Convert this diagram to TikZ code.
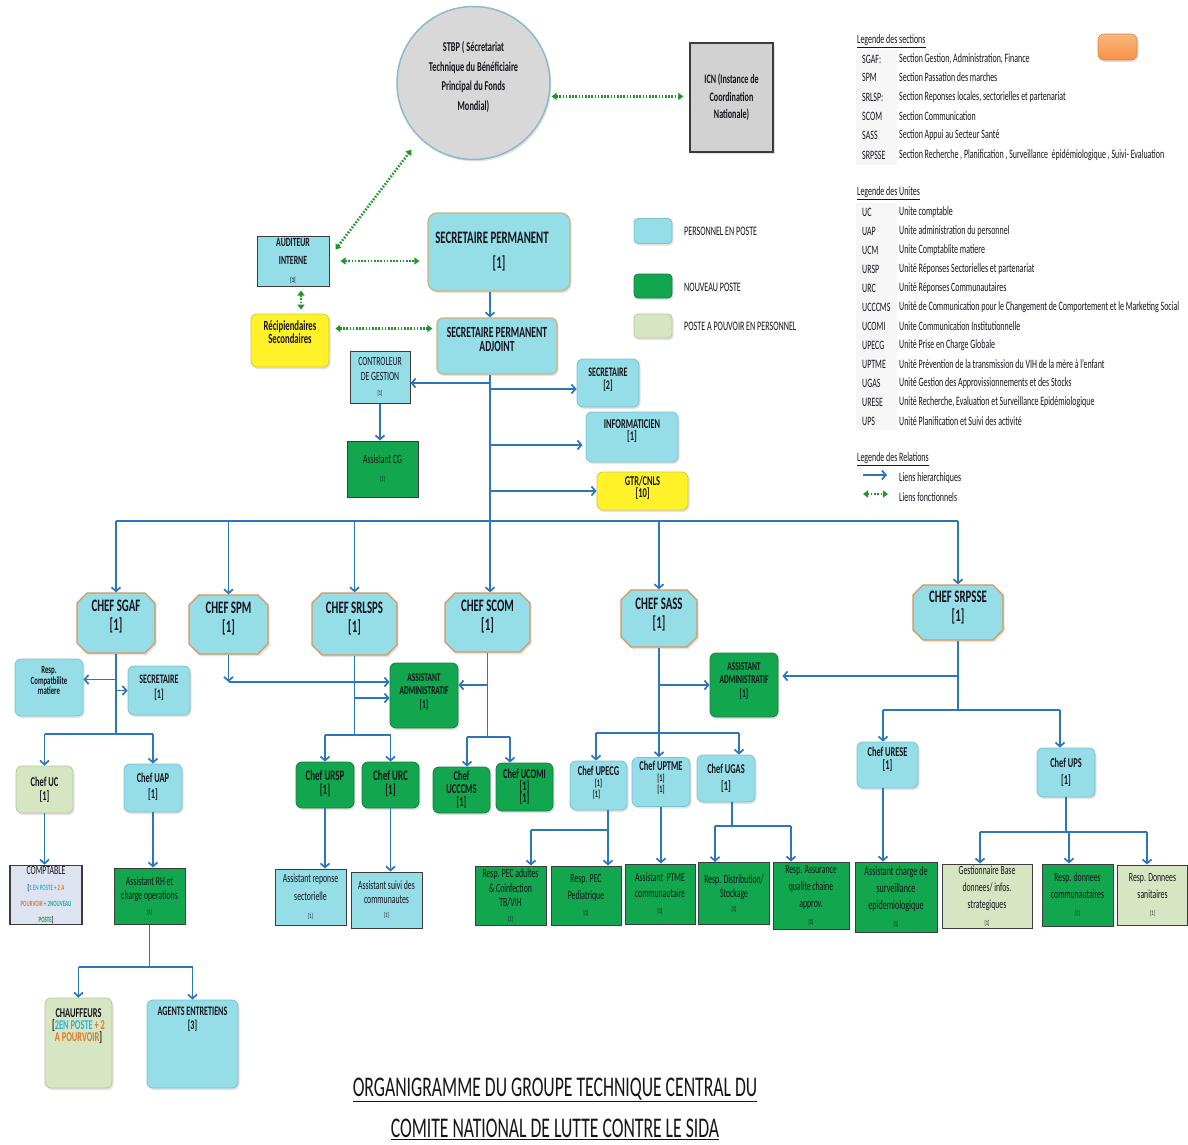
\documentclass[tikz,border=0pt]{standalone}
\usepackage{fontspec}
\setmainfont{Carlito}[FakeStretch=0.62]
\usetikzlibrary{arrows.meta,shapes.misc,shadows,calc}
\definecolor{lblue}{RGB}{149,221,231}
\definecolor{lbord}{RGB}{125,192,206}
\definecolor{ngreen}{RGB}{18,166,78}
\definecolor{gbord}{RGB}{22,125,62}
\definecolor{pale}{RGB}{214,229,194}
\definecolor{palebord}{RGB}{180,200,160}
\definecolor{ybox}{RGB}{255,242,40}
\definecolor{ybord}{RGB}{215,200,60}
\definecolor{tanb}{RGB}{200,180,125}
\definecolor{corange}{RGB}{214,150,90}
\definecolor{dk}{RGB}{60,60,60}
\definecolor{hblue}{RGB}{46,117,192}
\definecolor{fgreen}{RGB}{30,150,40}
\definecolor{cgray}{RGB}{216,216,216}
\definecolor{cbord}{RGB}{140,185,205}
\definecolor{icngray}{RGB}{210,210,210}
\definecolor{txt}{RGB}{20,20,28}
\definecolor{tcyan}{RGB}{40,180,225}
\definecolor{torange}{RGB}{225,120,40}
\definecolor{tgreen}{RGB}{20,160,80}
\definecolor{swor}{RGB}{246,160,80}
\definecolor{lavend}{RGB}{222,227,242}
\newcommand\fz[2]{\fontsize{#1pt}{#2pt}\selectfont}
\begin{document}
\begin{tikzpicture}[x=1pt,y=-1pt,
  wh/.style 2 args={minimum width=#1pt, minimum height=#2pt},
  tup/.style={text depth=#1},
  shd/.style={drop shadow={opacity=0.22, shadow xshift=1.5pt, shadow yshift=-2pt}},
  bx/.style={align=center, inner sep=1pt, text=txt},
  rblue/.style={bx, rounded corners=6pt, fill=lblue, draw=lbord, line width=0.8pt, shd},
  sblue/.style={bx, fill=lblue, draw=dk, line width=1pt},
  rgreen/.style={bx, rounded corners=6pt, fill=ngreen, draw=gbord, line width=0.8pt, shd},
  sgreen/.style={bx, fill=ngreen, draw=dk, line width=1pt},
  spale/.style={bx, fill=pale, draw=dk, line width=1pt},
  rpale/.style={bx, rounded corners=6pt, fill=pale, draw=palebord, line width=0.8pt, shd},
  ryel/.style={bx, rounded corners=6pt, fill=ybox, draw=ybord, line width=0.8pt, shd},
  chefbox/.style={bx, chamfered rectangle, chamfered rectangle xsep=5pt, chamfered rectangle ysep=5pt, fill=lblue, draw=corange, line width=1.3pt, shd, font=\bfseries\fz{17.5}{19}},
  ha/.style={draw=hblue, line width=1.7pt, -{Straight Barb[length=4pt,width=9pt]}},
  hl/.style={draw=hblue, line width=1.7pt},
  fl/.style={draw=fgreen, line width=2.6pt, dash pattern=on 1.6pt off 1.6pt, {Triangle[length=5pt,width=7pt]}-{Triangle[length=5pt,width=7pt]}},
  lg/.style={anchor=west, inner sep=0pt, text=txt, font=\fz{12.8}{15}},
]
\useasboundingbox (0,0) rectangle (1188,1144);
\fill[white] (0,0) rectangle (1188,1144);

% ---------- legend backgrounds
\fill[gray!7] (856,50) rectangle (897,165);
\fill[gray!7] (856,203) rectangle (897,430);

% ---------- top
\node[bx, circle, minimum size=153pt, fill=cgray, draw=cbord, line width=1.5pt, shd, font=\bfseries\fz{13.5}{19.5}, tup=14pt] (stbp) at (473.5,83) {STBP ( Sécretariat\\Technique du Bénéficiaire\\Principal du Fonds\\Mondial)};
\node[bx, fill=icngray, draw=dk, line width=1.3pt, shd, wh={83}{109}, font=\bfseries\fz{13}{17.5}] (icn) at (731.5,97.5) {ICN (Instance de\\Coordination\\Nationale)};

\node[sblue, wh={72}{50}, font=\bfseries\fz{12.5}{18}] (aud) at (293,261) {AUDITEUR\\INTERNE\\{\fz{7}{8}[1]}};
\node[ryel, wh={78}{53}, font=\bfseries\fz{14}{12}, tup=17pt] (recip) at (290,340.5) {Récipiendaires\\Secondaires};
\node[rblue, draw=tanb, line width=1.2pt, rounded corners=9pt, wh={142}{78}, font=\bfseries\fz{17.5}{25}] (sp) at (499,252) {SECRETAIRE PERMANENT\hspace*{14pt}\\{[1]}};
\node[rblue, draw=tanb, line width=1.2pt, wh={120}{56}, font=\bfseries\fz{15.5}{14}, tup=13pt] (spa) at (497,346) {SECRETAIRE PERMANENT\\ADJOINT};
\node[sblue, wh={60}{52}, font=\fz{12.5}{15}] (ctrl) at (380,377) {CONTROLEUR\\DE GESTION\\{\fz{7}{8}[1]}};
\node[sgreen, wh={71}{56}, font=\fz{12.5}{18}] (acg) at (382.5,469) {Assistant CG\\{\fz{7}{8}[1]}};
\node[rblue, wh={62}{48}, font=\bfseries\fz{13}{13}, tup=9pt] (sec2) at (608,383) {SECRETAIRE\\{[2]}};
\node[rblue, wh={92}{50}, font=\bfseries\fz{13.5}{12.5}, tup=14pt] (info) at (632,437) {INFORMATICIEN\\{[1]}};
\node[ryel, wh={91}{38}, font=\bfseries\fz{13.5}{11.5}, tup=8pt] (gtr) at (642.5,491) {GTR/CNLS\\{[10]}};

% colour legend
\node[rblue, rounded corners=4pt, wh={38}{25}] (sw1) at (653,231) {};
\node[rgreen, rounded corners=4pt, wh={38}{24}] (sw2) at (653,286) {};
\node[rpale, rounded corners=4pt, wh={38}{24}] (sw3) at (653,326) {};
\node[lg, font=\fz{13}{14}] (sl1) at (684,231) {PERSONNEL EN POSTE};
\node[lg, font=\fz{13}{14}] (sl2) at (684,287) {NOUVEAU POSTE};
\node[lg, font=\fz{13}{14}] (sl3) at (684,326) {POSTE A POUVOIR EN PERSONNEL};
\node[rounded corners=6pt, top color=swor!75!white, bottom color=swor!90!red, draw=swor!85!black, line width=0.6pt, wh={39}{26}, shd] (swo) at (1117.5,47) {};

% ---------- legends text
\node[lg] (lsec) at (857,41) {\underline{Legende des sections}};
\node[lg] (s1a) at (862,59) {SGAF:}; \node[lg] (s1d) at (899,59) {Section Gestion, Administration, Finance};
\node[lg] (s2a) at (862,77) {SPM}; \node[lg] (s2d) at (899,77) {Section Passation des marches};
\node[lg] (s3a) at (862,97) {SRLSP:}; \node[lg] (s3d) at (899,97) {Section Reponses locales, sectorielles et partenariat};
\node[lg] (s4a) at (862,116) {SCOM}; \node[lg] (s4d) at (899,116) {Section Communication};
\node[lg] (s5a) at (862,135) {SASS}; \node[lg] (s5d) at (899,135) {Section Appui au Secteur Santé};
\node[lg] (s6a) at (862,155) {SRPSSE}; \node[lg] (s6d) at (899,155) {Section Recherche , Planification , Surveillance\ \ épidémiologique , Suivi- Evaluation};

\node[lg] (luni) at (857,193) {\underline{Legende des Unites}};
\node[lg] (u1a) at (862,212) {UC}; \node[lg] (u1d) at (899,212) {Unite comptable};
\node[lg] (u2a) at (862,231) {UAP}; \node[lg] (u2d) at (899,231) {Unite administration du personnel};
\node[lg] (u3a) at (862,250) {UCM}; \node[lg] (u3d) at (899,250) {Unite Comptablite matiere};
\node[lg] (u4a) at (862,269) {URSP}; \node[lg] (u4d) at (899,269) {Unité Réponses Sectorielles et partenariat};
\node[lg] (u5a) at (862,288) {URC}; \node[lg] (u5d) at (899,288) {Unité Réponses Communautaires};
\node[lg] (u6a) at (862,307) {UCCCMS}; \node[lg] (u6d) at (899,307) {Unité de Communication pour le Changement de Comportement et le Marketing Social};
\node[lg] (u7a) at (862,326) {UCOMI}; \node[lg] (u7d) at (899,326) {Unite Communication Institutionnelle};
\node[lg] (u8a) at (862,345) {UPECG}; \node[lg] (u8d) at (899,345) {Unité Prise en Charge Globale};
\node[lg] (u9a) at (862,364) {UPTME}; \node[lg] (u9d) at (899,364) {Unité Prévention de la transmission du VIH de la mère à l'enfant};
\node[lg] (u10a) at (862,383) {UGAS}; \node[lg] (u10d) at (899,383) {Unité Gestion des Approvissionnements et des Stocks};
\node[lg] (u11a) at (862,402) {URESE}; \node[lg] (u11d) at (899,402) {Unité Recherche, Evaluation et Surveillance Epidémiologique};
\node[lg] (u12a) at (862,421) {UPS}; \node[lg] (u12d) at (899,421) {Unité Planification et Suivi des activité};

\node[lg] (lrel) at (857,459) {\underline{Legende des Relations}};
\coordinate (lhA) at (863,475); \coordinate (lhB) at (887,475);
\draw[ha] (lhA) -- (lhB);
\coordinate (lfA) at (863,494); \coordinate (lfB) at (888,494);
\draw[fl] (lfA) -- (lfB);
\node[lg] (r1) at (899,478) {Liens hierarchiques};
\node[lg] (r2) at (899,497) {Liens fonctionnels};

% ---------- chefs
\node[chefbox, wh={78}{60}, tup=16pt] (cSGAF) at (116,623) {CHEF SGAF\\{[1]}};
\node[chefbox, wh={79}{59}, tup=14pt] (cSPM) at (228.5,624.5) {CHEF SPM\\{[1]}};
\node[chefbox, wh={85}{62}, tup=14pt] (cSRLSPS) at (354.5,624) {CHEF SRLSPS\\{[1]}};
\node[chefbox, wh={85}{59}, tup=14pt] (cSCOM) at (487.5,622.5) {CHEF SCOM\\{[1]}};
\node[chefbox, wh={76}{57}, tup=10pt] (cSASS) at (659,618.5) {CHEF SASS\\{[1]}};
\node[chefbox, wh={90}{55}, tup=12pt] (cSRPSSE) at (958,612.5) {CHEF SRPSSE\\{[1]}};

% ---------- SGAF subtree
\node[rblue, wh={68}{57}, font=\bfseries\fz{11}{10.5}, tup=14pt] (respCM) at (49,687.5) {Resp.\\Compatbilite\\matiere};
\node[rblue, wh={62}{49}, font=\bfseries\fz{13}{15}, tup=8pt] (sec1) at (159,690.5) {SECRETAIRE\\{[1]}};
\node[rpale, wh={57}{47}, font=\bfseries\fz{13.5}{14}] (cUC) at (44.5,789.5) {Chef UC\\{[1]}};
\node[rblue, wh={58}{48}, font=\bfseries\fz{13.5}{16}, tup=5pt] (cUAP) at (153,788) {Chef UAP\\{[1]}};
\node[bx, fill=lavend, draw=dk, line width=1.4pt, wh={72}{56}, font=\bfseries\fz{8}{16}] (compt) at (46,895) {{\mdseries\fz{12.5}{16}COMPTABLE}\\{[}\textcolor{tcyan}{1 EN POSTE} \textcolor{torange}{+ 2 A}\\\textcolor{torange}{POURVOIR} \textcolor{tcyan!60!tgreen}{+ 2NOUVEAU}\\\textcolor{tgreen}{POSTE}{]}};
\node[sgreen, wh={71}{56}, font=\fz{12.5}{14.5}] (arh) at (149.5,896) {Assistant RH et\\charge operations\\{\fz{7}{8}[1]}};
\node[rpale, wh={67}{90}, font=\bfseries\fz{13.5}{12}, tup=35pt] (chauf) at (78.5,1043) {CHAUFFEURS\\{[}\textcolor{tcyan}{2EN POSTE} \textcolor{torange}{+ 2}\\\textcolor{torange}{A POURVOIR}{]}};
\node[rblue, wh={91}{88}, font=\bfseries\fz{13}{14}, tup=51pt] (agents) at (192.5,1044) {AGENTS ENTRETIENS\\{[3]}};

% ---------- SPM / SRLSPS / SCOM
\node[rgreen, wh={68}{65}, font=\bfseries\fz{12}{13.5}, tup=9pt] (aa1) at (424,695.5) {ASSISTANT\\ADMINISTRATIF\\{[1]}};
\node[rgreen, wh={58}{46}, font=\bfseries\fz{14.5}{13.5}, tup=5pt] (cURSP) at (325,785) {Chef URSP\\{[1]}};
\node[rgreen, wh={57}{46}, font=\bfseries\fz{14.5}{13.5}, tup=5pt] (cURC) at (390.5,785) {Chef URC\\{[1]}};
\node[sblue, wh={71}{56}, font=\fz{12.5}{18}] (aRS) at (310.5,897) {Assistant reponse\\sectorielle\\{\fz{7}{8}[1]}};
\node[sblue, wh={71}{56}, font=\fz{12.5}{14}] (aSC) at (386.5,900) {Assistant suivi des\\communautes\\{\fz{7}{8}[1]}};
\node[rgreen, wh={57}{46}, font=\bfseries\fz{13.5}{13}] (cUCCCMS) at (461.5,790) {Chef\\UCCCMS\\{[1]}};
\node[rgreen, wh={57}{48}, font=\bfseries\fz{13.5}{12}] (cUCOMI) at (524.5,787) {Chef UCOMI\\{[1]}\\{[1]}};

% ---------- SASS
\node[rgreen, wh={68}{64}, font=\bfseries\fz{12}{13.5}, tup=10pt] (aa2) at (744,685) {ASSISTANT\\ADMINISTRATIF\\{[1]}};
\node[rblue, wh={57}{49}, font=\bfseries\fz{13.5}{11}, tup=8pt] (cUPECG) at (598.5,785.5) {Chef UPECG\\{\fz{10}{10}[1]}\\{\fz{10}{10}\hspace*{-4pt}[1]}};
\node[rblue, wh={58}{49}, font=\bfseries\fz{13.5}{11}, tup=10pt] (cUPTME) at (661,782) {Chef UPTME\\{\fz{10}{10}[1]}\\{\fz{10}{10}[1]}};
\node[rblue, wh={58}{47}, font=\bfseries\fz{13.5}{17}] (cUGAS) at (726,778.5) {Chef UGAS\\{[1]}};
\node[sgreen, wh={71}{59}, font=\fz{12.5}{14.5}] (rPECA) at (510.5,895.5) {Resp. PEC adultes\\\& Coinfection\\TB/VIH\\{\fz{7}{8}[1]}};
\node[sgreen, wh={70}{59}, font=\fz{12.5}{16.5}] (rPECP) at (586,895.5) {Resp. PEC\\Pediatrique\\{\fz{7}{8}[1]}};
\node[sgreen, wh={70}{60}, font=\fz{12.5}{16}] (aPTME) at (660,894) {Assistant\ \ PTME\\communautaire\\{\fz{7}{8}[1]}};
\node[sgreen, wh={71}{62}, font=\fz{12.5}{14}] (rDist) at (734,893.5) {Resp. Distribution/\\Stockage\\{\fz{7}{8}[1]}};
\node[sgreen, wh={76}{67}, font=\fz{12.5}{17}] (rAss) at (811,895.5) {Resp. Assurance\\qualite chaine\\approv.\\{\fz{7}{8}[1]}};

% ---------- SRPSSE
\node[rblue, wh={61}{46}, font=\bfseries\fz{13.5}{13}, tup=14pt] (cURESE) at (887.5,765) {Chef URESE\\{[1]}};
\node[rblue, wh={58}{49}, font=\bfseries\fz{13.5}{17}] (cUPS) at (1066,772.5) {Chef UPS\\{[1]}};
\node[sgreen, wh={82}{70}, font=\fz{13}{17}] (aCS) at (896,897) {Assistant charge de\\surveillance\\epidemiologique\\{\fz{7}{8}[1]}};
\node[spale, wh={90}{64}, font=\fz{12.5}{17}] (gBD) at (987,896) {Gestionnaire Base\\donnees/ infos.\\strategiques\\{\fz{7}{8}[1]}};
\node[sgreen, wh={71}{62}, font=\fz{12.5}{17}] (rDC) at (1077.5,895) {Resp. donnees\\communautaires\\{\fz{7}{8}[1]}};
\node[spale, wh={70}{60}, font=\fz{12.5}{17}] (rDS) at (1152.5,895) {Resp. Donnees\\sanitaires\\{\fz{7}{8}[1]}};

% ---------- title
\node[bx, font=\fz{28.5}{30}] (t1) at (555,1090) {\underline{ORGANIGRAMME DU GROUPE TECHNIQUE CENTRAL DU}};
\node[bx, font=\fz{28.5}{30}] (t2) at (555,1129) {\underline{COMITE NATIONAL DE LUTTE CONTRE LE SIDA}};

% ---------- functional links
\draw[fl, shorten >=6pt, shorten <=2pt] (stbp.-10) -- (icn.west |- stbp.-10);
\draw[fl, shorten >=14pt] ([xshift=6pt,yshift=-14pt]aud.north east) -- (stbp.226);
\draw[fl, shorten <=11pt, shorten >=8pt] (aud.east) -- (aud.east -| sp.west);
\coordinate (fv1) at ([xshift=8pt]aud.south);
\draw[fl, shorten <=4pt, shorten >=4pt] (fv1) -- (fv1 |- recip.north);
\coordinate (fr1) at ([yshift=12pt]recip.east);
\draw[fl, shorten <=6pt, shorten >=4pt] (fr1) -- (fr1 -| spa.west);

% ---------- hierarchical links
\coordinate (trunk) at (490,0);
\draw[ha] (sp.south -| trunk) -- (spa.north -| trunk);
\draw[ha] (spa.south -| trunk) -- (cSCOM.north -| trunk);
\coordinate (aCtrl) at ([yshift=-6pt]ctrl.east);
\draw[ha] (trunk |- aCtrl) -- (aCtrl);
\coordinate (aSec) at ([yshift=-6pt]sec2.west);
\draw[ha] (trunk |- aSec) -- (aSec);
\coordinate (aInfo) at ([yshift=-8pt,xshift=-3pt]info.west);
\draw[ha] (trunk |- aInfo) -- (aInfo);
\draw[ha] (trunk |- gtr.west) -- (gtr.west);
\draw[ha] (ctrl.south) -- (ctrl.south |- acg.north);

\coordinate (busY) at (0,521);
\draw[hl] (cSGAF.north |- busY) -- (cSRPSSE.north |- busY);
\foreach \n in {cSGAF,cSPM,cSRLSPS,cSASS,cSRPSSE} \draw[ha] (\n.north |- busY) -- (\n.north);

% SGAF
\coordinate (sgH) at (0,734);
\draw[hl] (cSGAF.south) -- (cSGAF.south |- sgH);
\coordinate (aResp) at ([yshift=8pt]respCM.east);
\draw[ha] (cSGAF.south |- aResp) -- (aResp);
\draw[ha] (cSGAF.south |- sec1.west) -- (sec1.west);
\draw[hl] (cUC.north |- sgH) -- (cUAP.north |- sgH);
\draw[ha] (cUC.north |- sgH) -- (cUC.north);
\draw[ha] (cUAP.north |- sgH) -- (cUAP.north);
\draw[ha] (cUC.south) -- (cUC.south |- compt.north);
\draw[ha] (cUAP.south) -- (cUAP.south |- arh.north);
\coordinate (rhH) at (0,967);
\draw[hl] (arh.south) -- (arh.south |- rhH);
\draw[hl] (chauf.north |- rhH) -- (agents.north |- rhH);
\draw[ha] (chauf.north |- rhH) -- (chauf.north);
\draw[ha] (agents.north |- rhH) -- (agents.north);

% SPM
\coordinate (spmH) at (0,682);
\draw[ha] (cSPM.south) -- (cSPM.south |- spmH);
\draw[ha] (cSPM.south |- spmH) -- (aa1.west |- spmH);

% SRLSPS
\coordinate (srA) at (0,698);
\coordinate (srH) at (0,735);
\draw[hl] (cSRLSPS.south) -- (cSRLSPS.south |- srH);
\draw[ha] (cSRLSPS.south |- srA) -- (aa1.west |- srA);
\draw[hl] (cURSP.north |- srH) -- (cURC.north |- srH);
\draw[ha] (cURSP.north |- srH) -- (cURSP.north);
\draw[ha] (cURC.north |- srH) -- (cURC.north);
\draw[ha] (cURSP.south) -- (cURSP.south |- aRS.north);
\draw[ha] (cURC.south) -- (cURC.south |- aSC.north);

% SCOM
\coordinate (scA) at (0,685);
\coordinate (ucA) at (467,737);
\coordinate (ucB) at (510,737);
\draw[hl] (cSCOM.south) -- (cSCOM.south |- ucA);
\draw[ha] (cSCOM.south |- scA) -- (aa1.east |- scA);
\draw[hl] (ucA) -- (ucB);
\draw[ha] (ucA) -- (ucA |- cUCCCMS.north);
\draw[ha] (ucB) -- (ucB |- cUCOMI.north);

% SASS
\draw[ha] (cSASS.south) -- (cSASS.south |- cUPTME.north);
\draw[ha] (cSASS.south |- aa2.west) -- (aa2.west);
\coordinate (saA) at (596,733);
\coordinate (saB) at (739,733);
\draw[hl] (saA) -- (saB);
\draw[ha] (saA) -- (saA |- cUPECG.north);
\draw[ha] (saB) -- (saB |- cUGAS.north);
\coordinate (peA) at (531,830);
\coordinate (peB) at (608,830);
\draw[hl] (peB |- cUPECG.south) -- (peB) -- (peA);
\draw[ha] (peA) -- (peA |- rPECA.north);
\draw[ha] (peB) -- (peB |- rPECP.north);
\draw[ha] (cUPTME.south) -- (cUPTME.south |- aPTME.north);
\coordinate (gaA) at (715,826);
\coordinate (gaB) at (791,826);
\coordinate (gaM) at (732,826);
\draw[hl] (gaM |- cUGAS.south) -- (gaM);
\draw[hl] (gaA) -- (gaB);
\draw[ha] (gaA) -- (gaA |- rDist.north);
\draw[ha] (gaB) -- (gaB |- rAss.north);

% SRPSSE
\coordinate (rpA) at (0,676);
\coordinate (rsA) at (883,710);
\coordinate (rsB) at (1060,710);
\draw[hl] (cSRPSSE.south) -- (cSRPSSE.south |- rsA);
\draw[ha, shorten >=4pt] (cSRPSSE.south |- rpA) -- (aa2.east |- rpA);
\draw[hl] (rsA) -- (rsB);
\draw[ha] (rsA) -- (rsA |- cURESE.north);
\draw[ha] (rsB) -- (rsB |- cUPS.north);
\draw[ha] (rsA |- cURESE.south) -- (rsA |- aCS.north);
\coordinate (upH) at (0,832);
\coordinate (upA) at (980,832);
\coordinate (upB) at (1069,832);
\coordinate (upC) at (1147,832);
\draw[hl] (cUPS.south) -- (cUPS.south |- upH);
\draw[hl] (upA) -- (upC);
\draw[ha] (upA) -- (upA |- gBD.north);
\draw[ha] (upB) -- (upB |- rDC.north);
\draw[ha] (upC) -- (upC |- rDS.north);
\end{tikzpicture}
\end{document}
